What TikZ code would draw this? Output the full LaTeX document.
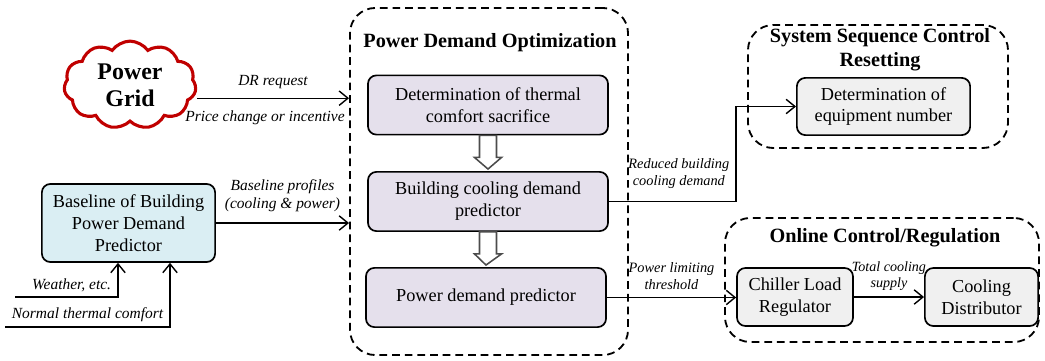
\documentclass[tikz,border=0pt]{standalone}
\usepackage{fontspec}
\setmainfont{Liberation Serif}
\usepackage{xcolor}
\usepackage{tikz}
\usetikzlibrary{arrows.meta, positioning, shapes.symbols, calc}

\definecolor{gridred}{HTML}{C00000}
\definecolor{optfill}{HTML}{E5E0EC}
\definecolor{basefill}{HTML}{DAEEF3}
\definecolor{ctrlfill}{HTML}{F0F0F0}

\begin{document}
\begin{tikzpicture}[
        x=0.025cm, y=-0.025cm,
        block/.style={rectangle, rounded corners=6pt, draw=black, line width=1.2pt, text centered, align=center, font=\fontsize{13}{15.5}\selectfont},
        optbox/.style={block, fill=optfill, minimum width=6cm, minimum height=1.48cm},
        ctrlbox/.style={block, fill=ctrlfill, minimum height=1.45cm},
        group/.style={rectangle, rounded corners=18pt, draw=black, line width=1.3pt, dash pattern=on 5.5pt off 3.5pt},
        title/.style={font=\fontsize{14.4}{17}\selectfont\bfseries, align=center},
        lbl/.style={font=\fontsize{11}{13}\selectfont\itshape, align=center},
        slbl/.style={font=\fontsize{10.2}{12}\selectfont\itshape, align=center},
        arrow/.style={-{Straight Barb[length=2.2mm, width=3.6mm]}, line width=1pt},
        hollow/.style={draw=black!70, line width=1.1pt, fill=white}
    ]
        \useasboundingbox (0,0) rectangle (1045,361);

        % Groups
        \node[group, minimum width=6.95cm, minimum height=8.675cm] (pdo) at (489,181.5) {};
        \node[title] (pdotitle) at (490,43) {Power Demand Optimization};
        \node[group, minimum width=6.5cm, minimum height=3.075cm] (ssc) at (878,86.5) {};
        \node[title] (ssctitle) at (880,50) {System Sequence Control\\Resetting};
        \node[group, minimum width=7.85cm, minimum height=3.1cm] (ocr) at (882,280) {};
        \node[title] (ocrtitle) at (885,238) {Online Control/Regulation};

        % Nodes
        \node[cloud, cloud puffs=11, cloud puff arc=110, aspect=1.6, draw=gridred, line width=2.2pt, fill=white, minimum width=3.3cm, minimum height=2cm, font=\fontsize{17}{19}\selectfont\bfseries, align=center] (grid) at (130,85) {Power\\Grid};
        \node[optbox] (thermal) at (488,105) {Determination of thermal\\comfort sacrifice};
        \node[optbox] (cooling) at (488,201.5) {Building cooling demand\\predictor};
        \node[optbox] (power) at (486,297.5) {Power demand predictor};
        \node[block, fill=basefill, minimum width=4.33cm, minimum height=1.95cm] (base) at (128.5,223) {Baseline of Building\\Power Demand\\Predictor};
        \node[ctrlbox, minimum width=4.33cm, minimum height=1.43cm] (equip) at (883.5,106.5) {Determination of\\equipment number};
        \node[ctrlbox, minimum width=2.9cm] (chiller) at (795,297) {Chiller Load\\Regulator};
        \node[ctrlbox, minimum width=2.83cm] (distrib) at (981.5,297) {Cooling\\Distributor};

        % Hollow arrows
        \draw[hollow] ($(thermal.south)+(-8.5,0)$) -- ++(0,22) -- ++(-5,0) -- ($(cooling.north)+(0,-2)$)
            -- ($(thermal.south)+(13.5,22)$) -- ++(-5,0) -- ++(0,-22) -- cycle;
        \draw[hollow] ($(cooling.south)+(-8.5,0)$) -- ++(0,22) -- ++(-5,0) -- ($(power.north)+(0,-2)$)
            -- ($(cooling.south)+(13.5,22)$) -- ++(-5,0) -- ++(0,-22) -- cycle;

        % Arrows
        \draw[arrow] ([yshift=-0.33cm]grid.east) coordinate (g1) -- (g1 -| pdo.west)
            node[midway, above=3pt, lbl] {DR request}
            node[midway, below=5pt, lbl, xshift=-0.2cm] {Price change or incentive};
        \draw[arrow] (base.east) -- (base.east -| pdo.west)
            node[midway, above=4pt, lbl] {Baseline profiles\\(cooling \& power)};
        \draw[arrow] (cooling.east) -- ([xshift=3.18cm]cooling.east) coordinate (c1) |- (equip.west);
        \node[slbl, above=6pt] (redlbl) at ($(cooling.east)!0.55!(c1)$) {Reduced building\\cooling demand};
        \draw[arrow] (power.east) -- (power.east -| chiller.west)
            node[midway, above=2pt, slbl] {Power limiting\\threshold};
        \draw[arrow] (chiller.east) -- (distrib.west)
            node[midway, above=1pt, font=\fontsize{10}{11.5}\selectfont\itshape, align=center] {Total cooling\\supply};

        % Inputs
        \coordinate (w0) at (15,297);
        \coordinate (w1) at (118,297);
        \coordinate (n0) at (5,327);
        \coordinate (n1) at (170,327);
        \draw[arrow] (w0) -- (w1) -- (w1 |- base.south);
        \draw[arrow] (n0) -- (n1) -- (n1 |- base.south);
        \node[lbl, above=0pt] (wlbl) at ($(w0)!0.55!(w1)$) {Weather, etc.};
        \node[lbl, above=0pt] (nlbl) at ($(n0)!0.5!(n1)$) {Normal thermal comfort};
    \end{tikzpicture}
\end{document}
